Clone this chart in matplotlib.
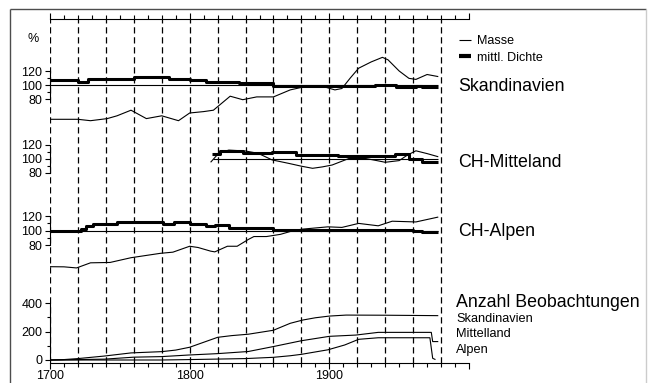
import matplotlib.pyplot as plt
import matplotlib as mpl
from matplotlib.lines import Line2D
from matplotlib.ticker import MultipleLocator, FixedLocator

mpl.rcParams['font.family'] = ['Liberation Sans', 'DejaVu Sans']
mpl.rcParams['font.size'] = 9
mpl.rcParams['lines.solid_capstyle'] = 'butt'

# --- data ---
skand_masse_yr = [1700, 1710, 1720, 1729, 1741, 1748, 1758, 1769, 1780, 1792, 1800, 1810, 1817,
                  1829, 1838, 1848, 1860, 1872, 1881, 1893, 1897, 1904, 1909, 1915, 1921, 1930,
                  1938, 1942, 1950, 1957, 1962, 1970, 1978]
skand_masse = [51, 51, 51, 49, 52, 56, 64, 52, 56, 49, 60, 62, 64,
               84, 79, 83, 83, 93, 97, 98.5, 97, 93, 95, 110, 124, 133,
               139.5, 136, 120, 109.5, 108, 115, 112]
skand_dichte_yr = [1700, 1720, 1727, 1760, 1785, 1800, 1812, 1835, 1840, 1860, 1933, 1948, 1962, 1966, 1978]
skand_dichte = [107, 105, 108.5, 111, 108.5, 106.7, 105, 102.4, 103, 99, 100.5, 96.7, 99, 96.7, 96.7]

mitt_masse_yr = [1815, 1821, 1828, 1840, 1849, 1859, 1871, 1880, 1888, 1895, 1902, 1914, 1926,
                 1934, 1940, 1950, 1956, 1962, 1970, 1978]
mitt_masse = [94.6, 108, 112, 110.7, 107.4, 98, 93, 89, 86, 88, 90.7, 100, 100,
              97, 94.6, 97, 105, 111, 107, 102.5]
mitt_dichte_yr = [1816, 1822, 1838, 1859, 1876, 1906, 1947, 1957, 1966, 1978]
mitt_dichte = [107, 110.8, 108, 109.4, 105.7, 103.3, 106, 98.6, 95, 95]

alpen_masse_yr = [1700, 1710, 1719, 1729, 1743, 1758, 1779, 1788, 1800, 1806, 1815, 1818, 1827,
                  1834, 1842, 1846, 1855, 1865, 1874, 1880, 1899, 1909, 1921, 1935, 1945, 1962, 1978]
alpen_masse = [50.7, 50.5, 49, 56, 56.5, 63, 69, 70.6, 78.7, 77, 72, 71, 78.7,
               78.7, 88, 92, 92, 95, 100, 102, 105.3, 104.5, 110, 106.7, 113, 112, 118.7]
alpen_dichte_yr = [1700, 1719, 1722, 1726, 1731, 1748, 1781, 1789, 1800, 1812, 1818, 1828,
                   1842, 1860, 1867, 1960, 1966, 1978]
alpen_dichte = [100, 100, 103, 106, 109, 112, 109, 112, 109, 106.3, 107.7, 103.6,
                104, 101.5, 101, 100, 97.8, 97.8]

n_skand_yr = [1700, 1710, 1720, 1739, 1758, 1780, 1790, 1800, 1810, 1820, 1830, 1842, 1860,
              1872, 1881, 1890, 1900, 1912, 1940, 1978]
n_skand = [0, 3, 10, 28, 50, 59, 70, 90, 125, 160, 172, 182, 210,
           259, 282, 298, 310, 317, 316, 313]
n_mitt_yr = [1700, 1739, 1760, 1780, 1799, 1820, 1842, 1860, 1880, 1900, 1919, 1935, 1973, 1974, 1978]
n_mitt = [0, 6, 20, 24, 35, 45, 60, 95, 136, 167, 176, 195, 195, 130, 130]
n_alpen_yr = [1700, 1780, 1800, 1840, 1860, 1872, 1880, 1899, 1911, 1921, 1935, 1972, 1974, 1976]
n_alpen = [0, 0, 3, 10, 19, 30, 40, 72, 106, 146, 157, 157, 12, 3]

dash_years = list(range(1700, 1981, 20))
data_end = 1978

# --- figure layout in pixels ---
W, H = 648, 383
X0, X1 = 50, 469  # pixel columns of 1700 and 2000

fig = plt.figure(figsize=(W / 100, H / 100), dpi=100)


def px(x, y):
    return x / W, 1 - y / H


def add_ax(top, bot):
    ax = fig.add_axes([X0 / W, 1 - bot / H, (X1 - X0) / W, (bot - top) / H])
    ax.patch.set_alpha(0)
    ax.set_xlim(1700, 2000)
    return ax


# background axes: time axis top/bottom + dashed grid
bg = add_ax(19, 362.5)
bg.patch.set_alpha(1)
bg.set_ylim(0, 1)
bg.set_yticks([])
bg.spines['left'].set_visible(False)
bg.spines['right'].set_visible(False)
bg.xaxis.set_major_locator(FixedLocator([1700, 1800, 1900, 2000]))
bg.xaxis.set_minor_locator(MultipleLocator(10))
bg.set_xticklabels(['1700', '1800', '1900', ''])
bg.tick_params(axis='x', which='both', top=True, bottom=True, direction='out',
               width=0.8, labelsize=9, pad=1)
bg.tick_params(axis='x', which='major', length=4.5)
bg.tick_params(axis='x', which='minor', length=3)
for yr in dash_years:
    bg.axvline(yr, color='k', lw=0.9, ls=(0, (5, 3)))


def style_panel(ax, lo, hi, ticks, minor, bounds):
    ax.set_ylim(lo, hi)
    for s in ['top', 'right', 'bottom']:
        ax.spines[s].set_visible(False)
    ax.spines['left'].set_bounds(*bounds)
    ax.spines['left'].set_linewidth(0.8)
    ax.set_xticks([])
    ax.set_yticks(ticks)
    ax.set_yticks(minor, minor=True)
    ax.tick_params(axis='y', which='both', direction='out', width=0.8, labelsize=9, pad=2)
    ax.tick_params(axis='y', which='major', length=3.5)
    ax.tick_params(axis='y', which='minor', length=2)


def pct_panel(p100, scale, lo, hi):
    ax = add_ax(p100 - (hi - 100) * scale, p100 + (100 - lo) * scale)
    style_panel(ax, lo, hi, [80, 100, 120], [90, 110], (80, 120))
    return ax


thin = dict(color='k', lw=0.8)
thick = dict(color='k', lw=2.2, drawstyle='steps-post')

ax1 = pct_panel(85, 0.7, 40, 150)
ax1.hlines(100, 1700, data_end, **thin)
ax1.plot(skand_masse_yr, skand_masse, **thin)
ax1.plot(skand_dichte_yr, skand_dichte, **thick)

ax2 = pct_panel(158.5, 0.7, 70, 130)
ax2.hlines(100, 1817, data_end, **thin)
ax2.plot(mitt_masse_yr, mitt_masse, **thin)
ax2.plot(mitt_dichte_yr, mitt_dichte, **thick)

ax3 = pct_panel(230.7, 0.73, 40, 130)
ax3.hlines(100, 1700, data_end, **thin)
ax3.plot(alpen_masse_yr, alpen_masse, **thin)
ax3.plot(alpen_dichte_yr, alpen_dichte, **thick)

s4 = 0.1417
ax4 = add_ax(360 - 450 * s4, 360 + 8 * s4)
style_panel(ax4, -8, 450, [0, 200, 400], [100, 300], (0, 400))
ax4.plot(n_skand_yr, n_skand, **thin)
ax4.plot(n_mitt_yr, n_mitt, **thin)
ax4.plot(n_alpen_yr, n_alpen, **thin)

# labels
fig.text(*px(33, 39), '%', ha='center', va='center', fontsize=9)
big = dict(ha='left', va='center', fontsize=12.8)
small = dict(ha='left', va='center', fontsize=9.2)
fig.text(*px(458, 86.5), 'Skandinavien', **big)
fig.text(*px(458, 162.5), 'CH-Mitteland', **big)
fig.text(*px(458, 232), 'CH-Alpen', **big)
fig.text(*px(456, 302.5), 'Anzahl Beobachtungen', **big)
fig.text(*px(456, 318.5), 'Skandinavien', **small)
fig.text(*px(456, 334), 'Mittelland', **small)
fig.text(*px(456, 350), 'Alpen', **small)

# legend
handles = [Line2D([], [], color='k', lw=0.8), Line2D([], [], color='k', lw=3)]
fig.legend(handles, ['Masse', 'mittl. Dichte'], loc='upper left',
           bbox_to_anchor=px(453, 29), frameon=False, fontsize=9,
           handlelength=0.9, handletextpad=0.5, labelspacing=0.35, borderpad=0)

# frame around the figure
fig.add_artist(Line2D([10 / W, 10 / W], [0, 1 - 9 / H], color='0.3', lw=1))
fig.add_artist(Line2D([10 / W, 646 / W], [1 - 9 / H, 1 - 9 / H], color='0.3', lw=1))
fig.add_artist(Line2D([646 / W, 646 / W], [0, 1 - 9 / H], color='0.8', lw=1))

fig.savefig('out.png', dpi=100)
